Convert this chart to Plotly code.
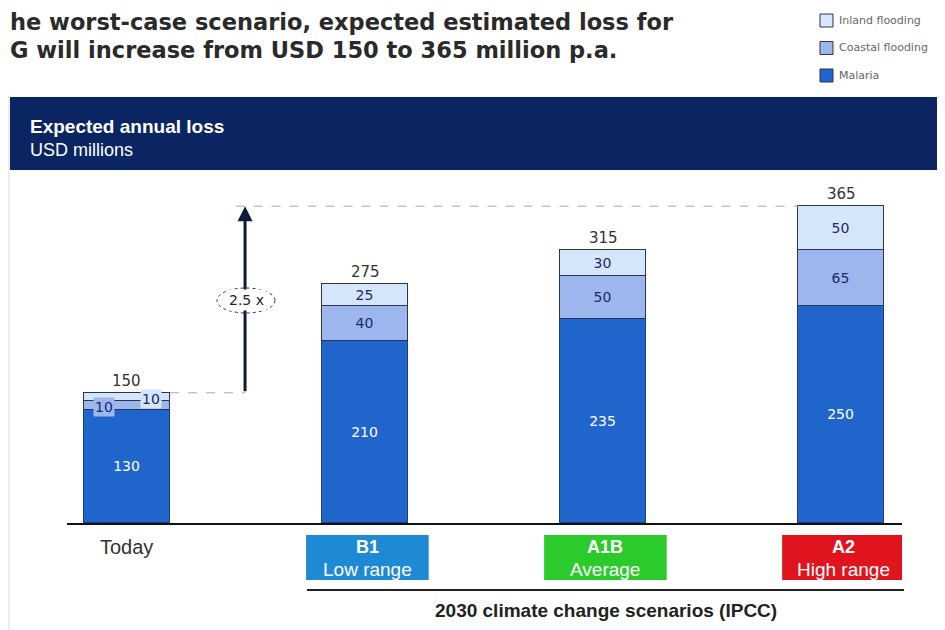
import plotly.graph_objects as go

# ---------------- data ----------------
categories = ["Today", "B1", "A1B", "A2"]
malaria = [130, 210, 235, 250]
coastal = [10, 40, 50, 65]
inland = [10, 25, 30, 50]
series_names = ["Malaria", "Coastal flooding", "Inland flooding"]
scenario_codes = ["B1", "A1B", "A2"]
scenario_names = ["Low range", "Average", "High range"]
multiplier_label = "2.5 x"
header_title = "Expected annual loss"
header_unit = "USD millions"
title_lines = ["he worst-case scenario, expected estimated loss for",
               "G will increase from USD 150 to 365 million p.a."]
footer_label = "2030 climate change scenarios (IPCC)"

totals = [m + c + i for m, c, i in zip(malaria, coastal, inland)]
xs = list(range(len(categories)))

# ---------------- layout geometry ----------------
# the page body has an 8px margin, so the figure is placed at (8, 8) in the window
OFF = 8
W, H = 945 - OFF, 630 - OFF
PLOT_L, PLOT_R, PLOT_T, PLOT_B = 67, 902, 175, 523   # window pixels of the plot area
ML, MR, MT, MB = PLOT_L - OFF, W - (PLOT_R - OFF), PLOT_T - OFF, H - (PLOT_B - OFF)
PW, PH = W - ML - MR, H - MT - MB
ARIAL = "Liberation Sans, Arial, sans-serif"
WIDE = "DejaVu Sans, Verdana, sans-serif"
PX_PER_UNIT = 0.868


def px(x):
    return (x - PLOT_L) / PW


def py(y):
    return (PLOT_B - y) / PH


C_MAL = "#1F65CC"
C_COA = "#9DB6EE"
C_INL = "#D5E5FA"
EDGE = "#2B3550"
LBL = "#1B2A6B"
colors = [C_MAL, C_COA, C_INL]

fig = go.Figure()

bar_w = 0.362
fig.add_trace(go.Bar(
    x=xs, y=malaria, name=series_names[0], width=bar_w,
    marker=dict(color=C_MAL, line=dict(color="#1A3C8A", width=1)),
    text=[str(v) for v in malaria], textposition="inside", insidetextanchor="middle",
    textfont=dict(color="white", size=14, family=WIDE), hoverinfo="skip"))
fig.add_trace(go.Bar(
    x=xs, y=coastal, name=series_names[1], width=bar_w,
    marker=dict(color=C_COA, line=dict(color=EDGE, width=1)),
    text=[""] + [str(v) for v in coastal[1:]], textposition="inside", insidetextanchor="middle",
    textfont=dict(color=LBL, size=14, family=WIDE), hoverinfo="skip"))
fig.add_trace(go.Bar(
    x=xs, y=inland, name=series_names[2], width=bar_w,
    marker=dict(color=C_INL, line=dict(color=EDGE, width=1)),
    text=[""] + [str(v) for v in inland[1:]], textposition="inside", insidetextanchor="middle",
    textfont=dict(color=LBL, size=14, family=WIDE), hoverinfo="skip"))

annotations = []
shapes = []


def note(x, y, text, size, color, family, xanchor="center", xref="paper", yref="paper", **kw):
    d = dict(x=x, y=y, xref=xref, yref=yref, text=text, showarrow=False,
             xanchor=xanchor, yanchor=kw.pop("yanchor", "middle"),
             font=dict(size=size, color=color, family=family))
    d.update(kw)
    annotations.append(d)


# totals
for x, t in zip(xs, totals):
    note(x, t, str(t), 15, "#333333", WIDE, xref="x", yref="y", yanchor="bottom", yshift=1)

# small labels on today's bar
note(xs[0] - 0.095, malaria[0] + coastal[0] / 2 - 1, str(coastal[0]), 14, LBL, WIDE,
     xref="x", yref="y", bgcolor=C_COA)
note(xs[0] + 0.1, malaria[0] + coastal[0] + inland[0] / 2 - 2, str(inland[0]), 14, LBL, WIDE,
     xref="x", yref="y", bgcolor=C_INL)

# arrow + dashed guides
ax_x = 0.496
shapes.append(dict(type="line", xref="x", yref="y", x0=xs[0] + bar_w / 2, x1=ax_x,
                   y0=totals[0], y1=totals[0], line=dict(color="#A8A8A8", width=1, dash="dash")))
shapes.append(dict(type="line", xref="x", yref="y", x0=ax_x - 0.04, x1=xs[3] - bar_w / 2,
                   y0=totals[3], y1=totals[3], line=dict(color="#A8A8A8", width=1, dash="dash")))
annotations.append(dict(x=ax_x, y=totals[3], ax=ax_x, ay=totals[0], xref="x", yref="y",
                        axref="x", ayref="y", text="", showarrow=True, arrowhead=2,
                        arrowsize=1, arrowwidth=3, arrowcolor="#0E1B3D"))
# 2.5x ellipse
shapes.append(dict(type="circle", xref="paper", yref="paper",
                   x0=px(217), x1=px(275), y0=py(313), y1=py(288),
                   fillcolor="white", line=dict(color="#333333", width=1, dash="dot")))
note(px(246), py(300), multiplier_label, 14, "#222222", WIDE, bgcolor="white", borderpad=2)

# header band
shapes.append(dict(type="rect", xref="paper", yref="paper", x0=px(10), x1=px(945),
                   y0=py(170), y1=py(97), fillcolor="#0B2462", line=dict(width=0), layer="below"))
note(px(28), py(127), "<b>" + header_title + "</b>", 19, "white", ARIAL, xanchor="left")
note(px(28), py(150), header_unit, 18, "white", ARIAL, xanchor="left")

# panel borders
for bx in (9, 940):
    shapes.append(dict(type="line", xref="paper", yref="paper", x0=px(bx), x1=px(bx),
                       y0=py(640), y1=py(95), line=dict(color="#DDDDDD", width=1)))

# title
for i, line in enumerate(title_lines):
    note(px(8), py(22 + 28 * i), "<b>" + line + "</b>", 22.5, "#2A2A2A", WIDE, xanchor="left")

# manual legend (top right)
for k, idx in enumerate([2, 1, 0]):
    yc = 20.5 + 27.5 * k
    shapes.append(dict(type="rect", xref="paper", yref="paper", x0=px(820), x1=px(833),
                       y0=py(yc + 6.5), y1=py(yc - 6.5), fillcolor=colors[idx],
                       line=dict(color="#2B3550", width=1)))
    note(px(837), py(yc), series_names[idx], 11, "#666666", WIDE, xanchor="left")

# category labels
note(xs[0], py(547), categories[0], 20, "#333333", ARIAL, xref="x")
box_colors = ["#1E8AD6", "#2CCB2C", "#E0141E"]
box_w = 0.515
for x, code, nm, col in zip(xs[1:], scenario_codes, scenario_names, box_colors):
    shapes.append(dict(type="rect", xref="x", yref="paper", x0=x - box_w / 2 + 0.01, x1=x + box_w / 2 + 0.01,
                       y0=py(580), y1=py(535), fillcolor=col, line=dict(width=0)))
    note(x + 0.01, py(547), "<b>" + code + "</b>", 18, "white", ARIAL, xref="x")
    note(x + 0.01, py(569), nm, 19, "white", ARIAL, xref="x")

shapes.append(dict(type="line", xref="paper", yref="paper", x0=px(307), x1=px(904),
                   y0=py(590), y1=py(590), line=dict(color="#222222", width=2)))
note(px(606), py(610), "<b>" + footer_label + "</b>", 19, "#222222", ARIAL)

fig.update_layout(
    width=W, height=H, margin=dict(l=ML, r=MR, t=MT, b=MB, autoexpand=False),
    paper_bgcolor="white", plot_bgcolor="white",
    barmode="stack", bargap=0,
    showlegend=False,
    xaxis=dict(range=[-0.252, 3.256], showgrid=False, zeroline=False, showticklabels=False,
               ticks="", showline=True, linecolor="#111111", linewidth=2, fixedrange=True),
    yaxis=dict(range=[0, PH / PX_PER_UNIT], visible=False, fixedrange=True),
    shapes=shapes, annotations=annotations,
    uniformtext=dict(mode="show", minsize=10),
)

fig.write_html("out.html")
